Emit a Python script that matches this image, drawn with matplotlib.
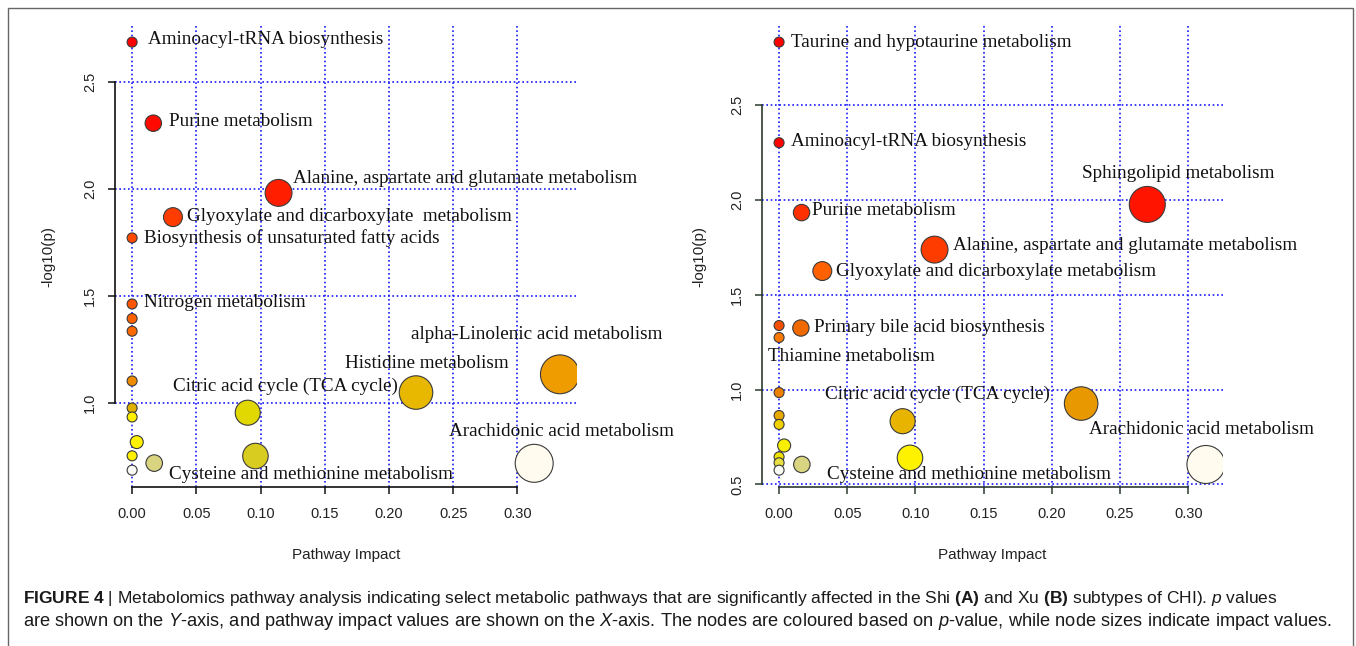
import matplotlib
matplotlib.use('Agg')
import matplotlib.pyplot as plt
from matplotlib.patches import Rectangle
import numpy as np

W, H, DPI = 1356, 646, 100

plt.rcParams['font.family'] = 'Liberation Sans'
plt.rcParams['mathtext.fontset'] = 'custom'
plt.rcParams['mathtext.rm'] = 'Liberation Sans'
plt.rcParams['mathtext.it'] = 'Liberation Sans:italic'
plt.rcParams['mathtext.bf'] = 'Liberation Sans:bold'

# ---- panel A (Shi) ----
a_impact = [0.0, 0.0165, 0.114, 0.0318, 0.0, 0.0, 0.0, 0.0, 0.0, 0.333,
            0.221, 0.0, 0.090, 0.0, 0.0036, 0.0, 0.096, 0.0172, 0.313, 0.0]
a_logp = [2.684, 2.306, 1.981, 1.868, 1.771, 1.463, 1.395, 1.336, 1.104, 1.135,
          1.050, 0.978, 0.956, 0.936, 0.819, 0.755, 0.754, 0.721, 0.720, 0.688]
a_colors = ['#FF0000', '#FF0A00', '#FF1E00', '#FF3C00', '#FF4A00', '#FF5500', '#FF6000',
            '#FF6A00', '#F08C00', '#EE9C00', '#E8B800', '#E0B000', '#E0D800', '#FFF000',
            '#FFF200', '#FFF000', '#D8CC20', '#D8D480', '#FFFBEE', '#F8F8F4']
a_names = ['Aminoacyl-tRNA biosynthesis', 'Purine metabolism',
           'Alanine, aspartate and glutamate metabolism',
           'Glyoxylate and dicarboxylate  metabolism',
           'Biosynthesis of unsaturated fatty acids', 'Nitrogen metabolism',
           'alpha-Linolenic acid metabolism', 'Histidine metabolism',
           'Citric acid cycle (TCA cycle)', 'Arachidonic acid metabolism',
           'Cysteine and methionine metabolism']
a_name_x = [0.0125, 0.0284, 0.1251, 0.043, 0.009, 0.009, 0.2172, 0.1654, 0.0321, 0.247, 0.0288]
a_name_y = [2.698, 2.312, 2.047, 1.869, 1.771, 1.470, 1.319, 1.187, 1.078, 0.867, 0.670]
a_yticks = [1.0, 1.5, 2.0, 2.5]

# ---- panel B (Xu) ----
b_impact = [0.0, 0.0, 0.270, 0.0165, 0.114, 0.0317, 0.0, 0.016, 0.0, 0.0, 0.2215,
            0.0, 0.0906, 0.0, 0.0037, 0.0, 0.096, 0.0, 0.0167, 0.313, 0.0]
b_logp = [2.83, 2.30, 1.975, 1.932, 1.737, 1.624, 1.337, 1.324, 1.274, 0.984, 0.926,
          0.863, 0.833, 0.816, 0.705, 0.645, 0.640, 0.614, 0.605, 0.605, 0.575]
b_colors = ['#FF0000', '#FF0400', '#FF1400', '#FF3000', '#FF3C00', '#FF6000', '#F55000',
            '#F06800', '#F87800', '#F08000', '#E89800', '#E8A800', '#E8B400', '#F0D000',
            '#F8EE00', '#F0E000', '#FFF200', '#E8E040', '#D8D480', '#FFFBEE', '#FAFAF6']
b_names = ['Taurine and hypotaurine metabolism', 'Aminoacyl-tRNA biosynthesis',
           'Sphingolipid metabolism', 'Purine metabolism',
           'Alanine, aspartate and glutamate metabolism',
           'Glyoxylate and dicarboxylate metabolism', 'Primary bile acid biosynthesis',
           'Thiamine metabolism', 'Citric acid cycle (TCA cycle)',
           'Arachidonic acid metabolism', 'Cysteine and methionine metabolism']
b_name_x = [0.0086, 0.0086, 0.2224, 0.0244, 0.1272, 0.0416, 0.0253, -0.0079, 0.0338, 0.2269, 0.0355]
b_name_y = [2.828, 2.305, 2.140, 1.944, 1.756, 1.624, 1.329, 1.172, 0.975, 0.791, 0.554]
b_yticks = [0.5, 1.0, 1.5, 2.0, 2.5]

x_ticks = [0.0, 0.05, 0.10, 0.15, 0.20, 0.25, 0.30]


def draw_panel(ax, impact, logp, colors, names, name_x, name_y, yticks, axis_color):
    impact = np.asarray(impact)
    logp = np.asarray(logp)
    diam_px = 10 + 50 * np.sqrt(impact)   # node size follows impact
    ax.scatter(impact, logp, s=(diam_px * 72 / DPI) ** 2, c=colors,
               edgecolors='#3a3a3a', linewidths=0.8, zorder=3)
    for name, lx, ly in zip(names, name_x, name_y):
        ax.text(lx, ly, name, family='Liberation Serif', fontsize=13.8,
                ha='left', va='center', zorder=4, color='#111111')

    xr = impact.max() - impact.min()
    yr = logp.max() - logp.min()
    ax.set_xlim(impact.min() - 0.04 * xr, impact.max() + 0.04 * xr)
    ax.set_ylim(logp.min() - 0.04 * yr, logp.max() + 0.04 * yr)

    ax.set_xticks(x_ticks)
    ax.set_xticklabels(['%.2f' % v for v in x_ticks])
    ax.set_yticks(yticks)
    ax.set_yticklabels(['%.1f' % v for v in yticks], rotation=90, va='center')
    ax.tick_params(labelsize=10.5, length=5, width=1.1, color=axis_color,
                   labelcolor='#222222')
    ax.tick_params(axis='x', pad=9)
    ax.tick_params(axis='y', pad=8)

    ax.set_axisbelow(True)
    ax.grid(True, color='#1a1aff', linestyle=(0, (1, 1.6)), linewidth=1.2)

    for s in ['top', 'right']:
        ax.spines[s].set_visible(False)
    ax.spines['left'].set_bounds(yticks[0], yticks[-1])
    ax.spines['bottom'].set_bounds(x_ticks[0], x_ticks[-1])
    for s in ['left', 'bottom']:
        ax.spines[s].set_color(axis_color)
        ax.spines[s].set_linewidth(1.2)

    ax.set_xlabel('Pathway Impact', fontsize=11, color='#222222')
    ax.set_ylabel('-log10(p)', fontsize=11, color='#222222')
    ax.xaxis.set_label_coords(0.5, -0.131)


fig = plt.figure(figsize=(W / DPI, H / DPI), dpi=DPI)

ax_a = fig.add_axes([115 / W, 1 - 487.3 / H, 462 / W, 462.3 / H])
draw_panel(ax_a, a_impact, a_logp, a_colors, a_names, a_name_x, a_name_y, a_yticks, '#111111')
ax_a.yaxis.set_label_coords(-0.128, 0.5)

ax_b = fig.add_axes([762 / W, 1 - 487.3 / H, 461 / W, 462.3 / H])
draw_panel(ax_b, b_impact, b_logp, b_colors, b_names, b_name_x, b_name_y, b_yticks, '#2c3a2e')
ax_b.yaxis.set_label_coords(-0.121, 0.5)

# outer frame
fig.add_artist(Rectangle((7.5 / W, -0.05), 1345.5 / W, 1.05 - 8 / H,
                         transform=fig.transFigure, fill=False,
                         edgecolor='#666666', linewidth=1.0))

# caption
line1 = (r"$\mathbf{FIGURE\ 4}$ | Metabolomics pathway analysis indicating select metabolic "
         r"pathways that are significantly affected in the Shi $\mathbf{(A)}$ and Xu "
         r"$\mathbf{(B)}$ subtypes of CHI). $\mathit{p}$ values")
line2 = (r"are shown on the $\mathit{Y}$-axis, and pathway impact values are shown on the "
         r"$\mathit{X}$-axis. The nodes are coloured based on $\mathit{p}$-value, while node "
         r"sizes indicate impact values.")
renderer = fig.canvas.get_renderer()
for txt, yc, target in [(line1, 598, 1249), (line2, 622, 1305)]:
    t = fig.text(23 / W, 1 - yc / H, txt, fontsize=12, va='center', color='#1a1a1a')
    w = t.get_window_extent(renderer).width
    t.set_fontsize(12 * target / w)

fig.savefig('out.png', dpi=DPI)
